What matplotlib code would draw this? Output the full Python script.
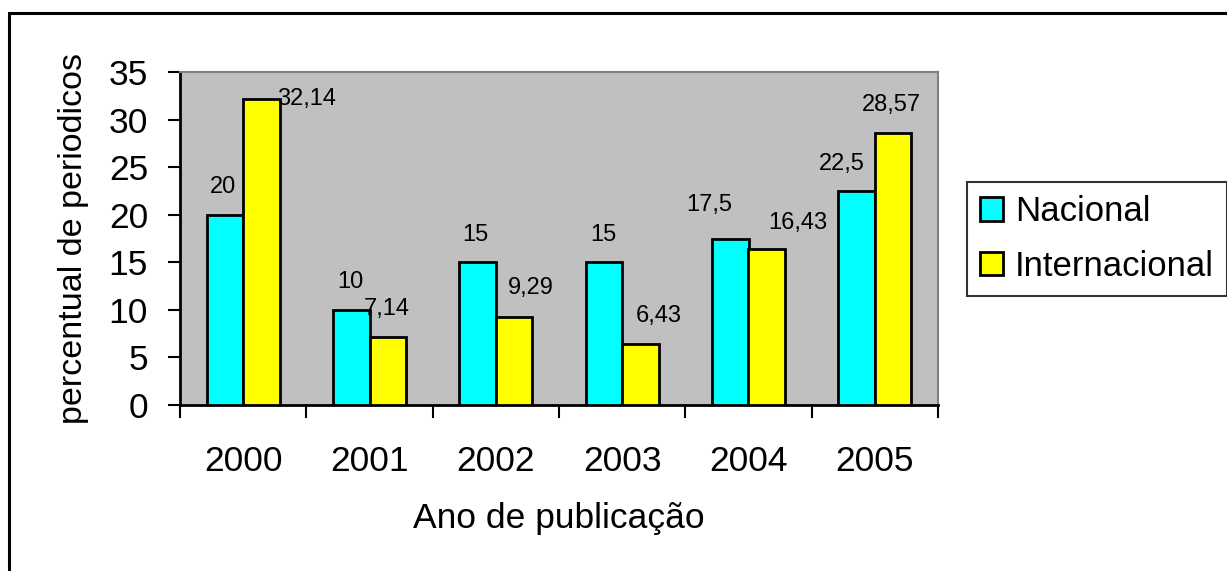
import numpy as np
import matplotlib.pyplot as plt
from matplotlib.patches import Rectangle

plt.rcParams["font.family"] = ["Liberation Sans", "DejaVu Sans"]

anos = ["2000", "2001", "2002", "2003", "2004", "2005"]
nacional = [20, 10, 15, 15, 17.5, 22.5]
internacional = [32.14, 7.14, 9.29, 6.43, 16.43, 28.57]
rot_nacional = ["20", "10", "15", "15", "17,5", "22,5"]
rot_internacional = ["32,14", "7,14", "9,29", "6,43", "16,43", "28,57"]

# deslocamento dos rotulos (pixels)
desl_nac = [(-2, 28), (-1, 28), (-2, 27), (0, 27), (-21, 34), (-15, 27)]
desl_int = [(45, 0), (-1, 28), (17, 29), (18, 28), (31, 26), (-2, 28)]

fig = plt.figure(figsize=(12.27, 5.71), dpi=100)
ax = fig.add_axes([180 / 1227, 1 - 405 / 571, 758 / 1227, 333 / 571])
ax.set_facecolor("#C0C0C0")

x = np.arange(len(anos))
w = 0.29
b1 = ax.bar(x - w / 2, nacional, w, color="#00FFFF", edgecolor="black",
            linewidth=2, label="Nacional", zorder=3)
b2 = ax.bar(x + w / 2, internacional, w, color="#FFFF00", edgecolor="black",
            linewidth=2, label="Internacional", zorder=3)

for barras, rots, desl in [(b1, rot_nacional, desl_nac), (b2, rot_internacional, desl_int)]:
    for r, t, (dx, dy) in zip(barras, rots, desl):
        ax.annotate(t, (r.get_x() + r.get_width() / 2, r.get_height()),
                    xytext=(dx, dy), textcoords="offset pixels",
                    ha="center", va="center", fontsize=17, zorder=4)

ax.set_xlim(-0.5, len(anos) - 0.5)
ax.set_ylim(0, 35)
ax.set_yticks(range(0, 36, 5))
ax.tick_params(axis="y", labelsize=25.5, length=9, width=1.5, pad=14, direction="out")
ax.set_xticks(x)
ax.set_xticklabels(anos)
ax.tick_params(axis="x", which="major", length=0, labelsize=25.5, pad=29)
ax.set_xticks(np.arange(-0.5, len(anos), 1), minor=True)
ax.tick_params(axis="x", which="minor", length=9, width=1.5, direction="out")

for s in ["left", "bottom"]:
    ax.spines[s].set_color("black")
    ax.spines[s].set_linewidth(2)
for s in ["top", "right"]:
    ax.spines[s].set_color("#808080")
    ax.spines[s].set_linewidth(1.5)

ax.set_ylabel("percentual de periodicos", fontsize=24.5, labelpad=14)
ax.set_xlabel("Ano de publicação", fontsize=25.5, labelpad=17)

leg = fig.legend(loc="upper left", bbox_to_anchor=(967 / 1227, 1 - 182 / 571),
                 fontsize=25, frameon=True, fancybox=False, edgecolor="black",
                 handlelength=0.65, handleheight=0.65, handletextpad=0.35,
                 borderpad=0.38, labelspacing=0.62, borderaxespad=0)
leg.get_frame().set_linewidth(1.5)

fig.patches.append(Rectangle((9 / 1227, -0.1), 1.2, 1 - 13 / 571 + 0.1,
                             transform=fig.transFigure, fill=False,
                             edgecolor="black", linewidth=2.2))

fig.savefig("out.png", dpi=100)
